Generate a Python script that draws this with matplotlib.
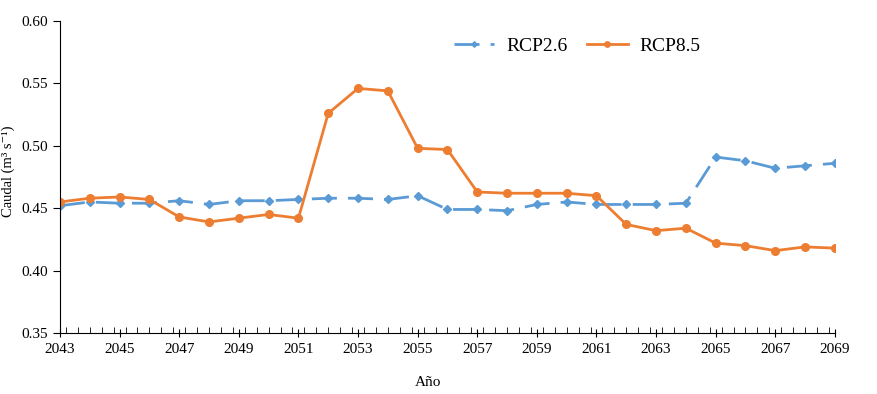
import matplotlib.pyplot as plt
import numpy as np
from matplotlib.ticker import MultipleLocator

years = np.arange(2043, 2070)

# caudal (m3 s-1)
rcp26 = [0.452, 0.455, 0.454, 0.454, 0.456, 0.453, 0.456, 0.456, 0.457, 0.458,
         0.458, 0.457, 0.460, 0.449, 0.449, 0.448, 0.453, 0.455, 0.453, 0.453,
         0.453, 0.454, 0.491, 0.488, 0.482, 0.484, 0.486]
rcp85 = [0.455, 0.458, 0.459, 0.457, 0.443, 0.439, 0.442, 0.445, 0.442, 0.526,
         0.546, 0.544, 0.498, 0.497, 0.463, 0.462, 0.462, 0.462, 0.460, 0.437,
         0.432, 0.434, 0.422, 0.420, 0.416, 0.419, 0.418]

plt.rcParams['font.family'] = ['Liberation Serif', 'DejaVu Serif']

fig = plt.figure(figsize=(8.77, 3.94), dpi=100)
ax = fig.add_axes([0.0684, 0.1548, 0.8836, 0.7919])

ax.plot(years, rcp26, color='#5B9BD5', lw=2, ls=(0, (9, 4)), marker='D',
        ms=4, label='RCP2.6')
ax.plot(years, rcp85, color='#ED7D31', lw=2, marker='o', ms=5.5,
        label='RCP8.5')

ax.set_xlim(2043, 2069)
ax.set_ylim(0.35, 0.60)
ax.set_xticks(np.arange(2043, 2070, 2))
ax.xaxis.set_minor_locator(MultipleLocator(0.4))
ax.set_yticks(np.arange(0.35, 0.601, 0.05))
ax.yaxis.set_major_formatter(plt.FormatStrFormatter('%.2f'))

for s in ['top', 'right']:
    ax.spines[s].set_visible(False)
ax.tick_params(axis='y', direction='out', length=5, labelsize=11)
ax.tick_params(axis='x', which='major', direction='inout', length=6, labelsize=11, pad=4)
ax.tick_params(axis='x', which='minor', direction='in', length=4)

ax.legend(loc='center', bbox_to_anchor=(0.667, 0.92), ncol=2, frameon=False,
          fontsize=14, handlelength=2.1, columnspacing=1.0, handletextpad=0.6,
          markerscale=0.7)

fig.text(0.009, 0.565, 'Caudal (m³ s⁻¹)', rotation=90, ha='center',
         va='center', fontsize=10.5)
fig.text(0.488, 0.03, 'Año', ha='center', va='center', fontsize=11)

fig.savefig('out.png', dpi=100)
